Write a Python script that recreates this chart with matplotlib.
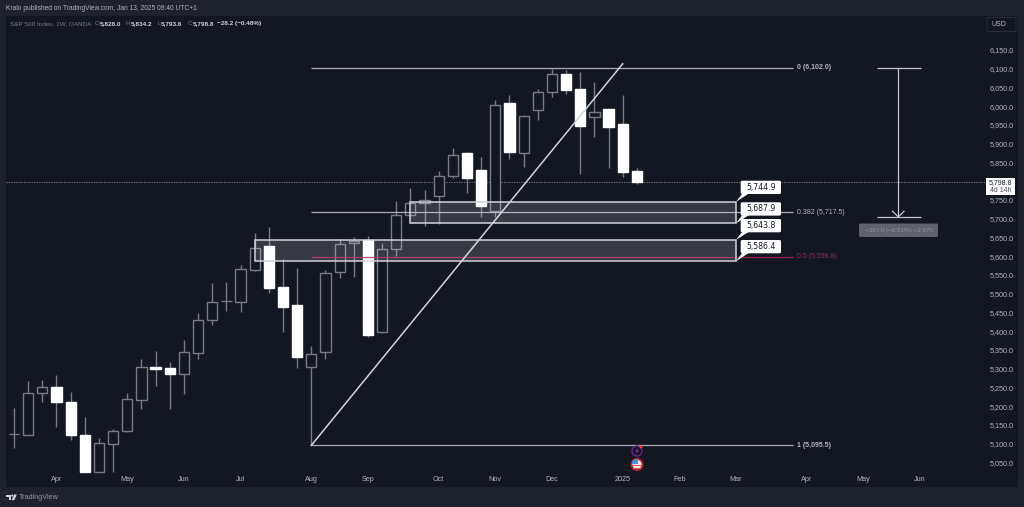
import matplotlib
matplotlib.use("Agg")
import matplotlib.pyplot as plt
from matplotlib.patches import Rectangle, Circle, Polygon, FancyBboxPatch

# weekly candles
opens = [5125, 5123, 5234, 5252, 5210, 5124, 5025, 5100, 5135, 5217, 5305, 5301, 5286, 5343, 5429,
         5480, 5478, 5562, 5627, 5518, 5469, 5304, 5345, 5558, 5634, 5643, 5399, 5618, 5709, 5741,
         5760, 5815, 5875, 5831, 5721, 6008, 5875, 5989, 6038, 6085, 6047, 5971, 5992, 5953, 5828.0]
highs = [5194, 5267, 5270, 5282, 5239, 5172, 5116, 5139, 5236, 5325, 5347, 5319, 5377, 5448, 5529,
         5531, 5577, 5663, 5677, 5592, 5569, 5360, 5563, 5645, 5650, 5654, 5636, 5746, 5782, 5777,
         5826, 5889, 5879, 5864, 6017, 6029, 5977, 6046, 6099, 6097, 6090, 6064, 5992, 6030, 5834.2]
lows = [5089, 5122, 5212, 5145, 5110, 5025, 5025, 5025, 5130, 5192, 5255, 5192, 5232, 5326, 5417,
        5455, 5452, 5560, 5503, 5397, 5302, 5095.5, 5325, 5543, 5545, 5385, 5396, 5601, 5704, 5680,
        5685, 5809, 5769, 5705, 5705, 5858, 5837, 5962, 6024, 6032, 5819, 5919, 5836, 5810, 5793.6]
closes = [5126, 5234, 5252, 5210, 5123, 5025, 5101, 5135, 5218, 5305, 5300, 5286, 5344, 5430, 5479,
          5480, 5566, 5623, 5514, 5465, 5330, 5338, 5556, 5632, 5641, 5389, 5620, 5709, 5741, 5751,
          5813, 5871, 5809, 5734, 6002, 5879, 5974, 6037, 6087, 6044, 5948, 5985, 5945, 5824, 5798.8]

price_ticks = [5050 + 50 * i for i in range(23)]
month_pos = [3, 8, 12, 16, 21, 25, 30, 34, 38, 43, 47, 51, 56, 60, 64]
month_labels = ["Apr", "May", "Jun", "Jul", "Aug", "Sep", "Oct", "Nov", "Dec", "2025",
                "Feb", "Mar", "Apr", "May", "Jun"]

fib_levels = [6102.0, 5717.5, 5598.8, 5095.5]
fib_labels = ["0 (6,102.0)", "0.382 (5,717.5)", "0.5 (5,598.8)", "1 (5,095.5)"]
fib_colors = ["#b2b5be", "#b2b5be", "#a3224f", "#b2b5be"]
zone_tops = [5744.9, 5643.8]
zone_bottoms = [5687.9, 5586.4]
zone_starts = [28, 17]
last_close = 5798.8
measure_top = 6102.0
measure_bottom = 5705.0

BG = "#1e222d"
PANE = "#131722"
GRAY = "#787b86"
LINE = "#b2b5be"
FONT = ["Liberation Sans", "DejaVu Sans"]

plt.rcParams["font.family"] = FONT
fig = plt.figure(figsize=(10.24, 5.07), dpi=100, facecolor=BG)

# pixel scale of the pane: 14.157 px per week, 0.375 px per index point
L, T, R, B = 5.5, 16.0, 1018.0, 486.7


def ix(px):
    return (px - 14.0) / 14.157


def iy(p):
    return 68.7 + (6100 - p) * 0.375


ax = fig.add_axes([L / 1024, 1 - B / 507, (R - L) / 1024, (B - T) / 507], facecolor=PANE)
ax.set_xlim(ix(L), ix(R))
ax.set_ylim(6100 - (B - 68.7) / 0.375, 6100 + (68.7 - T) / 0.375)
for s in ax.spines.values():
    s.set_visible(False)

ax.yaxis.tick_right()
ax.set_yticks(price_ticks)
ax.set_yticklabels([f"{p:,.1f}" for p in price_ticks])
ax.tick_params(axis="y", length=0, pad=-20.3, labelsize=5.2, labelcolor=LINE)
ax.set_xticks(month_pos)
ax.set_xticklabels(month_labels)
ax.tick_params(axis="x", length=0, pad=-7.6, labelsize=5.2, labelcolor=LINE)

xs = list(range(len(opens)))
ax.vlines(xs, lows, highs, color=GRAY, lw=1.0, zorder=2)
for i in xs:
    up = closes[i] >= opens[i]
    if abs(closes[i] - opens[i]) < 2:
        ax.hlines(opens[i], i - 0.37, i + 0.37, color=GRAY, lw=0.9, zorder=3)
        continue
    ax.bar(i, abs(closes[i] - opens[i]), bottom=min(opens[i], closes[i]), width=0.72,
           facecolor=PANE if up else "white", edgecolor=GRAY if up else "white",
           lw=1.0, zorder=3)

# last price line
ax.axhline(last_close, xmax=(985 - L) / (R - L), color="#8a8d97", lw=0.6, ls=(0, (1.5, 1.5)), zorder=1)

# fib lines
fib_x0 = 21
fib_x1 = ix(792.7)
for lvl, lab, col in zip(fib_levels, fib_labels, fib_colors):
    ax.hlines(lvl, fib_x0, fib_x1, color=col, lw=0.9, zorder=4, alpha=0.95)
    ax.text(ix(796.7), lvl, lab, color=col, fontsize=5.0, va="center", ha="left", zorder=4,
            fontweight="bold" if lab.startswith(("0 ", "1 ")) else "normal")

# trend line
ax.plot([21, ix(622.7)], [5095.5, 6113], color="#d1d4dc", lw=1.1, zorder=5)

# demand zones
for top, bot, start in zip(zone_tops, zone_bottoms, zone_starts):
    ax.add_patch(Rectangle((start, bot), ix(736) - start, top - bot, facecolor=(1, 1, 1, 0.15),
                           edgecolor="#d1d4dc", lw=1.1, zorder=6))

# measure tool
ax.hlines([measure_top, measure_bottom], ix(876.7), ix(920.7), color="#c3c6ce", lw=0.9, zorder=4)
ax.vlines(ix(898.3), measure_bottom, measure_top, color="#c3c6ce", lw=0.9, zorder=4)

# everything below is drawn on a pixel overlay
ov = fig.add_axes([0, 0, 1, 1], facecolor="none")
ov.set_xlim(0, 1024)
ov.set_ylim(507, 0)
ov.axis("off")

# arrow head of the measure tool
ymb = iy(measure_bottom)
ov.plot([892.5, 898.3, 904], [ymb - 5.5, ymb, ymb - 5.5], color="#c3c6ce", lw=0.9)
ov.add_patch(FancyBboxPatch((859, 223.5), 79, 13.5, boxstyle="round,pad=0,rounding_size=1.5",
                            facecolor="#5f626c", edgecolor="none"))
ov.text(898.5, 230.4, "\u2212397.0 (\u22126.51%) \u22123,970", color="#8f929c", fontsize=4.5,
        ha="center", va="center")


# price callouts
def callout(val, box_top, anchor_y):
    box_l, box_r = 740.7, 781.0
    box_b = box_top + 13.3
    ov.add_patch(Polygon([(box_l + 2, box_b - 1), (box_l + 9, box_b - 1), (736, anchor_y)],
                         closed=True, facecolor="white", edgecolor="none", zorder=7))
    ov.add_patch(FancyBboxPatch((box_l, box_top), box_r - box_l, 13.3,
                                boxstyle="round,pad=0,rounding_size=1.5",
                                facecolor="white", edgecolor="none", zorder=7))
    ov.text((box_l + box_r) / 2, box_top + 6.7, f"{val:,.1f}", color="#131722", fontsize=5.6,
            ha="center", va="center", zorder=8, family=["DejaVu Sans"])


callout(zone_tops[0], 180.7, iy(zone_tops[0]))
callout(zone_bottoms[0], 202.3, iy(zone_bottoms[0]))
callout(zone_tops[1], 219.0, iy(zone_tops[1]))
callout(zone_bottoms[1], 240.0, iy(zone_bottoms[1]))

# last price tag
ov.add_patch(Rectangle((985.7, 178.3), 29.6, 16.4, facecolor="white", edgecolor="none"))
ov.text(1000.5, 182.6, f"{last_close:,.1f}", color="#131722", fontsize=5.0, ha="center", va="center")
ov.text(1000.5, 190.2, "4d 14h", color="#4a4e59", fontsize=5.0, ha="center", va="center")

# USD box
ov.add_patch(FancyBboxPatch((987, 17.5), 29, 14, boxstyle="round,pad=0,rounding_size=1.5",
                            facecolor=PANE, edgecolor="#2a2e39", lw=0.8))
ov.text(992, 24.8, "USD", color="#b2b5be", fontsize=5.0, ha="left", va="center")

# header
ov.text(5.7, 8.5, "Kralo published on TradingView.com, Jan 13, 2025 09:40 UTC+1", color="#b2b5be",
        fontsize=4.8, ha="left", va="center")
ov.text(10, 23.5, "S&P 500 Index, 1W, OANDA", color="#787b86", fontsize=4.6, ha="left", va="center")
for x0, letter, x1, val in [(95, "O", 100, "5,828.0"), (126, "H", 131, "5,834.2"),
                            (157, "L", 161, "5,793.6"), (188, "C", 193, "5,798.8")]:
    ov.text(x0, 23.5, letter, color="#787b86", fontsize=4.6, ha="left", va="center")
    ov.text(x1, 23.5, val, color="#d1d4dc", fontsize=4.6, ha="left", va="center", fontweight="bold")
ov.text(217, 23.5, "\u221228.2 (\u22120.48%)", color="#d1d4dc", fontsize=4.6, ha="left", va="center",
        fontweight="bold")

# event icons
ov.add_patch(Circle((637, 451), 5.0, facecolor=PANE, edgecolor="#6a1f8f", lw=1.0, zorder=5))
ov.add_patch(Polygon([(638, 447.5), (635, 451.5), (637, 451.5), (636, 454.5), (639, 450.2), (637.2, 450.2)],
                     closed=True, facecolor="#7b2aa5", edgecolor="none", zorder=6))
ov.add_patch(Circle((641, 447), 1.5, facecolor="#e53935", edgecolor="none", zorder=6))
flag = Circle((637, 464.5), 5.6, facecolor="#e8eaf0", edgecolor="#a8232f", lw=1.4, zorder=5)
ov.add_patch(flag)
blue = Rectangle((632, 459), 6, 5, facecolor="#4a90d9", edgecolor="none", zorder=6)
ov.add_patch(blue)
blue.set_clip_path(flag)
for sy in (465.0, 467.5):
    st = Rectangle((631, sy), 12, 1.2, facecolor="#d9534f", edgecolor="none", zorder=6)
    ov.add_patch(st)
    st.set_clip_path(flag)

# TradingView logo
logo = "#d1d4dc"
ov.add_patch(Polygon([(5.8, 494.5), (11, 494.5), (11, 500.2), (8.6, 500.2), (8.6, 496.7), (5.8, 496.7)],
                     closed=True, facecolor=logo, edgecolor="none"))
ov.add_patch(Circle((12.3, 495.6), 1.1, facecolor=logo, edgecolor="none"))
ov.add_patch(Polygon([(14.2, 494.5), (16.8, 494.5), (14.3, 500.2), (11.6, 500.2)],
                     closed=True, facecolor=logo, edgecolor="none"))
ov.text(18.6, 497.2, "TradingView", color="#9598a1", fontsize=5.2, ha="left", va="center")

fig.savefig("out.png", dpi=100, facecolor=BG)
